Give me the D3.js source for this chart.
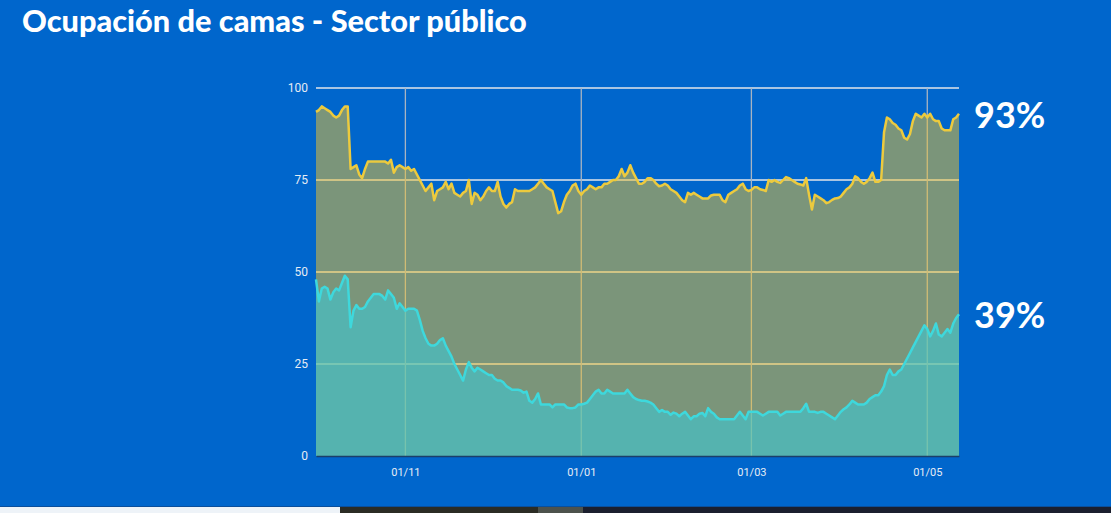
<!DOCTYPE html>
<html>
<head>
<meta charset="utf-8">
<script src="https://cdn.jsdelivr.net/npm/d3@7"></script>
<style>
  html, body { margin: 0; padding: 0; background: #0066cc; }
  svg { display: block; }
</style>
</head>
<body>
<script>
// Ocupación de camas - Sector público (daily, 01/10/2020 -> 12/05/2021)

var startDate = "2020-10-01";

// total bed occupancy (%) - yellow line
var occupancy = [
  93.5, 94, 95, 94.5, 94, 93.5, 92.5, 92, 92.5, 94, 95, 95, 78, 78.5, 79, 76.5,
  75.5, 78, 80, 80, 80, 80, 80, 80, 80, 79.5, 80.5, 77, 78.5, 79, 78.5, 78,
  78.5, 77.5, 78, 76.5, 75, 73.5, 72, 73, 74, 69.5, 72, 72.5, 73, 74.5, 72.5, 74,
  71.5, 71, 70.5, 71.5, 72, 75, 68.5, 71.5, 71, 69.5, 70.5, 72, 73, 72,
  72, 74.5, 70.5, 68.5, 67.5, 68.5, 69, 72.5, 72, 72, 72, 72, 72, 72.5, 73, 74,
  75, 74, 73, 72.5, 72, 69, 66, 66.5, 69, 71, 72, 73.5, 74, 72, 71, 72,
  72.5, 73.5, 73, 72.5, 73, 73, 74, 74, 74.5, 75, 75, 76, 78, 76, 77, 79,
  77, 75.5, 74, 74, 74.5, 75.5, 75.5, 75, 74, 73.3, 73.5, 74, 73.5, 72.5, 72, 71.5,
  70.5, 69.5, 69, 71.5, 71, 71.5, 71, 70.5, 70, 70, 70, 70.8, 71, 71, 71, 69.5,
  69, 71, 71.5, 72, 72.5, 73.5, 74, 72.5, 72, 72.3, 73, 73, 72.5, 72.3, 72, 75,
  74.5, 75, 74.5, 74.2, 75, 75.8, 75.5, 75, 74.5, 74, 73.8, 73.5, 75.5, 71, 67, 71,
  70.5, 70, 69.5, 68.7, 69, 69.6, 70, 70.1, 70.5, 71.5, 72.5, 73, 74, 76, 75.5, 74.5,
  74, 74.5, 75.5, 77, 74.5, 74.5, 75, 88, 92, 91.5, 90.5, 90, 89, 88.5, 86.5, 86,
  87.5, 91, 93, 92.5, 92, 93, 92, 93, 91.5, 91, 91, 89, 88.5, 88.5, 88.5, 91.5,
  92, 93
];

// covid-19 bed occupancy (%) - cyan line
var covid = [
  48, 42, 45.5, 46, 45.5, 42.5, 44.5, 45.5, 45, 47, 49, 48, 35, 39.5, 41, 40,
  40, 40.5, 42, 43, 44, 44, 44, 43.5, 42.5, 45, 44, 43, 40, 41.5, 40.5, 39.5,
  40, 40, 40, 39.5, 37, 34, 32, 30.5, 30, 30, 30.5, 31.5, 32, 30, 28.5, 27,
  25, 23.5, 22, 20.5, 23.5, 25.5, 24, 23, 24, 23.5, 23, 22.5, 22, 22, 21, 20.5,
  20.5, 20, 19, 18.5, 18, 18, 18, 17.8, 17.2, 17.5, 15, 14.5, 15.5, 17, 14, 14,
  14, 14, 13.2, 14, 14, 14, 14, 13.2, 13, 13, 13.2, 14, 14, 14.2, 14.5, 15.5,
  16.5, 17.5, 18, 17, 17, 18, 17.5, 17, 17, 17, 17, 17, 18, 17, 16, 15.5,
  15.2, 15, 15, 14.8, 14.5, 14, 13, 12, 12.5, 12, 12, 11.2, 11.8, 11.5, 10.8, 11.5,
  12, 11, 10, 10.8, 10.8, 11.5, 11.7, 10.8, 13, 12, 11.5, 10.5, 10, 10, 10, 10,
  10, 10, 11, 12, 11, 10, 12, 12, 12, 12, 11.5, 11, 11.5, 12, 12, 12,
  12, 11, 11.5, 12, 12, 12, 12, 12, 12, 13, 14.2, 12, 12, 12, 11.7, 12,
  12, 11.5, 11, 10.5, 10, 11, 12, 12.7, 13.2, 14, 15, 14.5, 14, 14, 14, 14.5,
  15.5, 16, 16.5, 16.5, 17.5, 19, 22, 23.5, 22, 22, 23, 23.5, 25, 26.5, 28, 29.5,
  31, 32.5, 34, 35.5, 34.5, 32.5, 34, 36, 33, 32.5, 33.5, 34.5, 33.5, 36, 37.5, 38.5
];

var yTicks = [0, 25, 50, 75, 100];
var xTicks = ["2020-11-01", "2021-01-01", "2021-03-01", "2021-05-01"];

var titleText = "Ocupación de camas - Sector público";

drawChart();

function drawChart() {

    var width = 1111;
    var height = 513;
    var left = 316, right = 959, top = 88, bottom = 456;

    var parse = d3.timeParse("%Y-%m-%d");
    var t0 = parse(startDate);
    var dates = d3.range(occupancy.length).map(function(i) {
        return d3.timeDay.offset(t0, i);
    });

    var svg = d3.select("body").
        append("svg").
        attr("width", width).
        attr("height", height);

    // background
    svg.append("rect").
        attr("width", width).
        attr("height", height).
        attr("fill", "#0066cc");

    // title
    var title = svg.append("text").
        attr("x", 22).
        attr("y", 32).
        attr("font-family", "Lato, 'Noto Sans', sans-serif").
        attr("font-weight", "900").
        attr("font-size", "25px").
        attr("fill", "#ffffff").
        text(titleText);
    var tw = title.node().getComputedTextLength();
    title.attr("font-size", (25 * 505 / tw) + "px");

    var xScale = d3.scaleTime().
        domain([dates[0], dates[dates.length - 1]]).
        range([left, right]);
    var yScale = d3.scaleLinear().
        domain([0, 100]).
        range([bottom, top]);

    var areaGen = d3.area().
        x(function(d, i) { return xScale(dates[i]); }).
        y0(yScale(0)).
        y1(function(d) { return yScale(d); });
    var lineGen = d3.line().
        x(function(d, i) { return xScale(dates[i]); }).
        y(function(d) { return yScale(d); });

    // gridlines, under the translucent areas
    svg.append("g").
        selectAll("line").
        data(yTicks.slice(1)).
        enter().
        append("line").
        attr("x1", left).
        attr("x2", right).
        attr("y1", function(d) { return yScale(d); }).
        attr("y2", function(d) { return yScale(d); }).
        attr("stroke", "#e2e6ea").
        attr("stroke-width", 1.3);

    svg.append("g").
        selectAll("line").
        data(xTicks).
        enter().
        append("line").
        attr("x1", function(d) { return xScale(parse(d)); }).
        attr("x2", function(d) { return xScale(parse(d)); }).
        attr("y1", top).
        attr("y2", bottom).
        attr("stroke", "#a8b4c2").
        attr("stroke-width", 1.3);

    // areas
    svg.append("path").
        datum(occupancy).
        attr("d", areaGen).
        attr("fill", "#f5c328").
        attr("fill-opacity", 0.5);
    svg.append("path").
        datum(covid).
        attr("d", areaGen).
        attr("fill", "#3cc8d2").
        attr("fill-opacity", 0.6);

    // lines
    svg.append("path").
        datum(occupancy).
        attr("d", lineGen).
        attr("fill", "none").
        attr("stroke", "#ecca3e").
        attr("stroke-width", 2.5).
        attr("stroke-linejoin", "round");
    svg.append("path").
        datum(covid).
        attr("d", lineGen).
        attr("fill", "none").
        attr("stroke", "#3ed8dc").
        attr("stroke-width", 2.5).
        attr("stroke-linejoin", "round");

    // axes
    var xAxis = d3.axisBottom(xScale).
        tickValues(xTicks.map(parse)).
        tickFormat(d3.timeFormat("%d/%m")).
        tickSize(0).
        tickPadding(12);
    var gx = svg.append("g").
        attr("transform", "translate(0," + bottom + ")").
        call(xAxis);
    gx.select(".domain").
        attr("stroke", "#1b3f6a").
        attr("stroke-width", 1.5);
    gx.selectAll("text").
        attr("font-family", "Roboto, 'Liberation Sans', sans-serif").
        attr("font-size", "11px").
        attr("fill", "#e6ecf4");

    var yAxis = d3.axisLeft(yScale).
        tickValues(yTicks).
        tickSize(0).
        tickPadding(8);
    var gy = svg.append("g").
        attr("transform", "translate(" + left + ",0)").
        call(yAxis);
    gy.select(".domain").remove();
    gy.selectAll("text").
        attr("font-family", "Roboto, 'Liberation Sans', sans-serif").
        attr("font-size", "12px").
        attr("fill", "#e6ecf4");

    // last values
    var lastLabels = [occupancy[occupancy.length - 1], covid[covid.length - 1]];
    svg.selectAll("text.last").
        data(lastLabels).
        enter().
        append("text").
        attr("class", "last").
        attr("x", 974).
        attr("y", function(d) { return yScale(d) + 14; }).
        attr("font-family", "Lato, 'Noto Sans', sans-serif").
        attr("font-weight", "bold").
        attr("font-size", "36px").
        attr("fill", "#ffffff").
        text(function(d) { return Math.round(d) + "%"; });

    // bottom strip of the screenshot
    svg.append("rect").attr("x", 0).attr("y", 506).attr("width", width).attr("height", 1).attr("fill", "#0a4f9c");
    svg.append("rect").attr("x", 0).attr("y", 507).attr("width", 340).attr("height", 6).attr("fill", "#eef3f8");
    svg.append("rect").attr("x", 340).attr("y", 507).attr("width", 198).attr("height", 6).attr("fill", "#2b2c24");
    svg.append("rect").attr("x", 538).attr("y", 507).attr("width", 45).attr("height", 6).attr("fill", "#4d524c");
    svg.append("rect").attr("x", 583).attr("y", 507).attr("width", 528).attr("height", 6).attr("fill", "#1b1f2e");
}
</script>
</body>
</html>
